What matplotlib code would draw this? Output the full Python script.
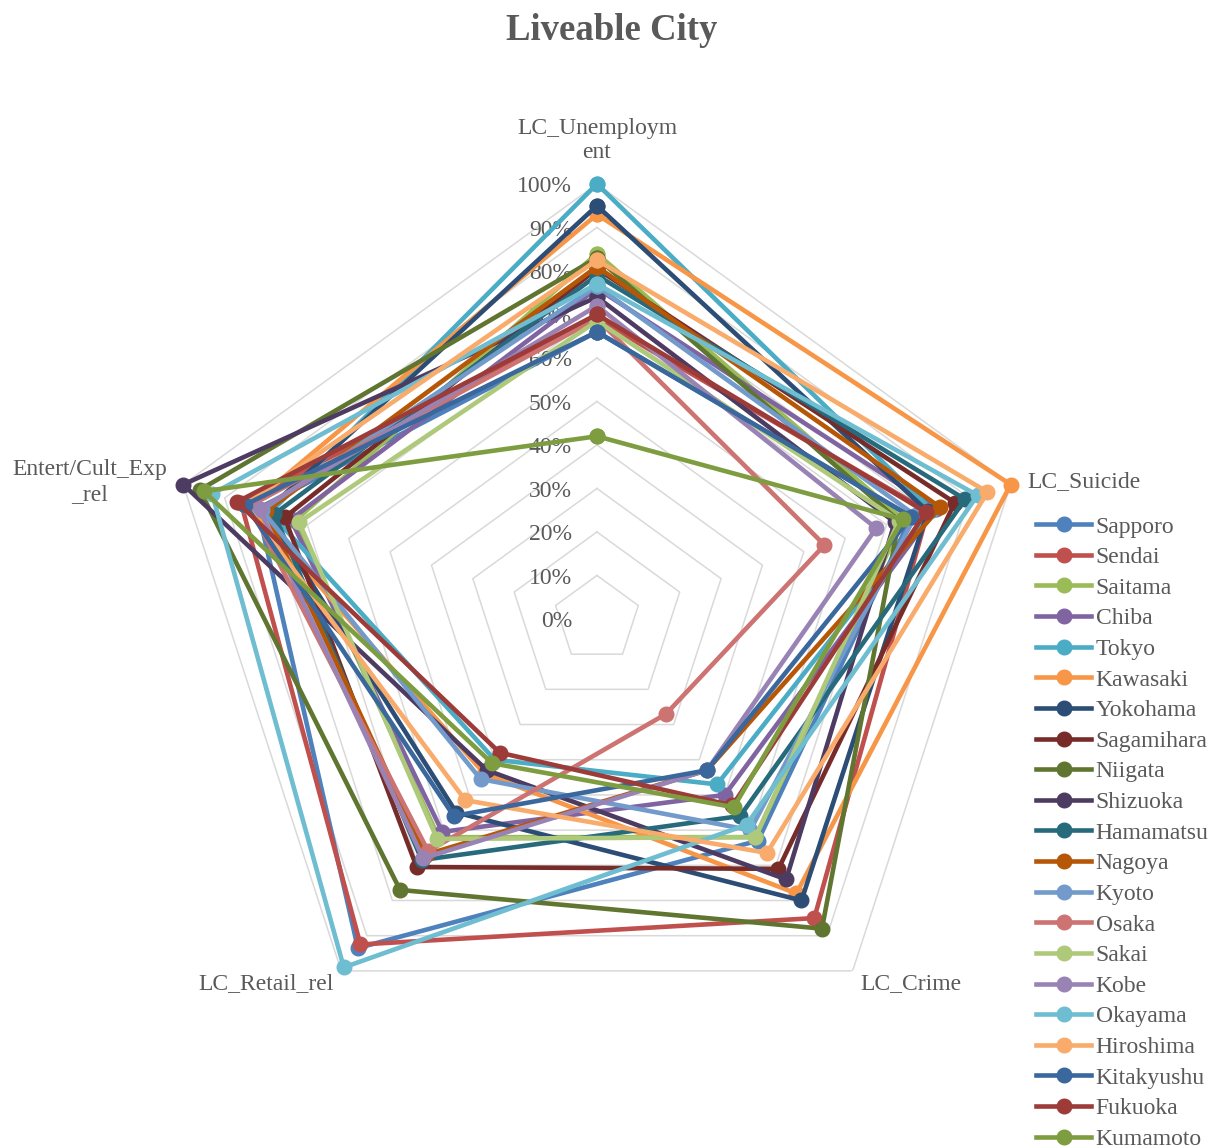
import numpy as np
import matplotlib
matplotlib.use("Agg")
import matplotlib.pyplot as plt
from matplotlib.transforms import ScaledTranslation

plt.rcParams['font.family'] = ['Liberation Serif', 'DejaVu Serif']
TEXT = '#595959'

axes_names = ['LC_Unemploym\nent', 'LC_Suicide', 'LC_Crime',
              'LC_Retail_rel', 'Entert/Cult_Exp\n_rel']

cities = ['Sapporo', 'Sendai', 'Saitama', 'Chiba', 'Tokyo', 'Kawasaki',
          'Yokohama', 'Sagamihara', 'Niigata', 'Shizuoka', 'Hamamatsu',
          'Nagoya', 'Kyoto', 'Osaka', 'Sakai', 'Kobe', 'Okayama',
          'Hiroshima', 'Kitakyushu', 'Fukuoka', 'Kumamoto']

# scores per city: unemployment, suicide, crime, retail, entertainment
unemployment = [0.66, 0.69, 0.84, 0.76, 1.00, 0.93, 0.95, 0.805, 0.83, 0.74, 0.79,
                0.81, 0.765, 0.69, 0.685, 0.72, 0.77, 0.825, 0.66, 0.70, 0.42]
suicide = [0.76, 0.80, 0.74, 0.82, 0.81, 1.00, 0.80, 0.865, 0.73, 0.72, 0.89,
           0.83, 0.77, 0.55, 0.73, 0.675, 0.92, 0.944, 0.76, 0.795, 0.74]
crime = [0.63, 0.85, 0.62, 0.50, 0.47, 0.78, 0.80, 0.71, 0.88, 0.74, 0.56,
         0.43, 0.60, 0.27, 0.62, 0.43, 0.585, 0.665, 0.43, 0.53, 0.535]
retail = [0.935, 0.925, 0.62, 0.605, 0.40, 0.44, 0.55, 0.705, 0.77, 0.43, 0.685,
          0.67, 0.455, 0.66, 0.625, 0.68, 0.99, 0.515, 0.56, 0.38, 0.41]
entertainment = [0.82, 0.86, 0.73, 0.74, 0.79, 0.84, 0.80, 0.755, 0.96, 1.00, 0.78,
                 0.80, 0.81, 0.84, 0.72, 0.815, 0.93, 0.85, 0.85, 0.87, 0.95]

colors = ['#4F81BD', '#C0504D', '#9BBB59', '#8064A2', '#4BACC6', '#F79646',
          '#2C4D75', '#772C2A', '#5F7530', '#4D3B62', '#276A7C', '#B65708',
          '#729ACA', '#CD7371', '#AFC97A', '#9983B5', '#6FBDD1', '#F9AB6B',
          '#3A679C', '#9D3B38', '#7E9D40']

ticks = np.arange(0, 1.01, 0.1)
FS = 17

fig = plt.figure(figsize=(12.24, 11.46), dpi=100)
ax = fig.add_axes([0.4877 - 0.3554, 0.4599 - 0.3796, 0.7108, 0.7592],
                  projection='polar')
ax.set_theta_offset(np.pi / 2)
ax.set_theta_direction(-1)
ax.set_ylim(0, 1)
ax.set_xticks([])
ax.set_yticks([])
ax.grid(False)
ax.spines['polar'].set_visible(False)
ax.patch.set_visible(False)

n = len(axes_names)
angles = np.linspace(0, 2 * np.pi, n, endpoint=False)
closed = np.append(angles, angles[0])

# pentagon gridlines
for t in ticks:
    ax.plot(closed, [t] * (n + 1), color='#D9D9D9', lw=1.1, zorder=1)

# percentage labels along the top spoke
off = ScaledTranslation(-0.25, -0.03, fig.dpi_scale_trans)
for t in ticks:
    ax.text(0, t, f'{int(round(t * 100))}%', transform=ax.transData + off,
            ha='right', va='center', fontsize=FS, color=TEXT)

table = np.array([unemployment, suicide, crime, retail, entertainment]).T
for i, city in enumerate(cities):
    vals = np.append(table[i], table[i][0])
    ax.plot(closed, vals, color=colors[i], lw=3.3, marker='o', markersize=10.5,
            label=city, zorder=3 + i, clip_on=False)

# category labels
down = ax.transData + ScaledTranslation(0, -0.025, fig.dpi_scale_trans)
ax.text(angles[0], 1.10, axes_names[0], ha='center', va='center',
        fontsize=FS, color=TEXT, linespacing=1.2)
ax.text(angles[1], 1.04, axes_names[1], ha='left', va='center',
        fontsize=FS, color=TEXT, transform=down)
ax.text(angles[2], 1.03, axes_names[2], ha='left', va='center',
        fontsize=FS, color=TEXT, transform=down)
ax.text(angles[3], 1.03, axes_names[3], ha='right', va='center',
        fontsize=FS, color=TEXT, transform=down)
ax.text(angles[4], 1.04, axes_names[4], ha='right', va='center',
        fontsize=FS, color=TEXT, multialignment='center', linespacing=1.25,
        transform=down)

fig.suptitle('Liveable City', x=0.5, y=0.973, va='center', fontsize=26.5,
             fontweight='bold', color=TEXT)

leg = fig.legend(loc='upper left', bbox_to_anchor=(1036 / 1224, 1 - 516 / 1146),
                 frameon=False, fontsize=FS, handlelength=2.33,
                 labelspacing=0.385, handletextpad=0.2, borderpad=0,
                 borderaxespad=0)
for txt in leg.get_texts():
    txt.set_color(TEXT)

fig.savefig('out.png', dpi=100)
